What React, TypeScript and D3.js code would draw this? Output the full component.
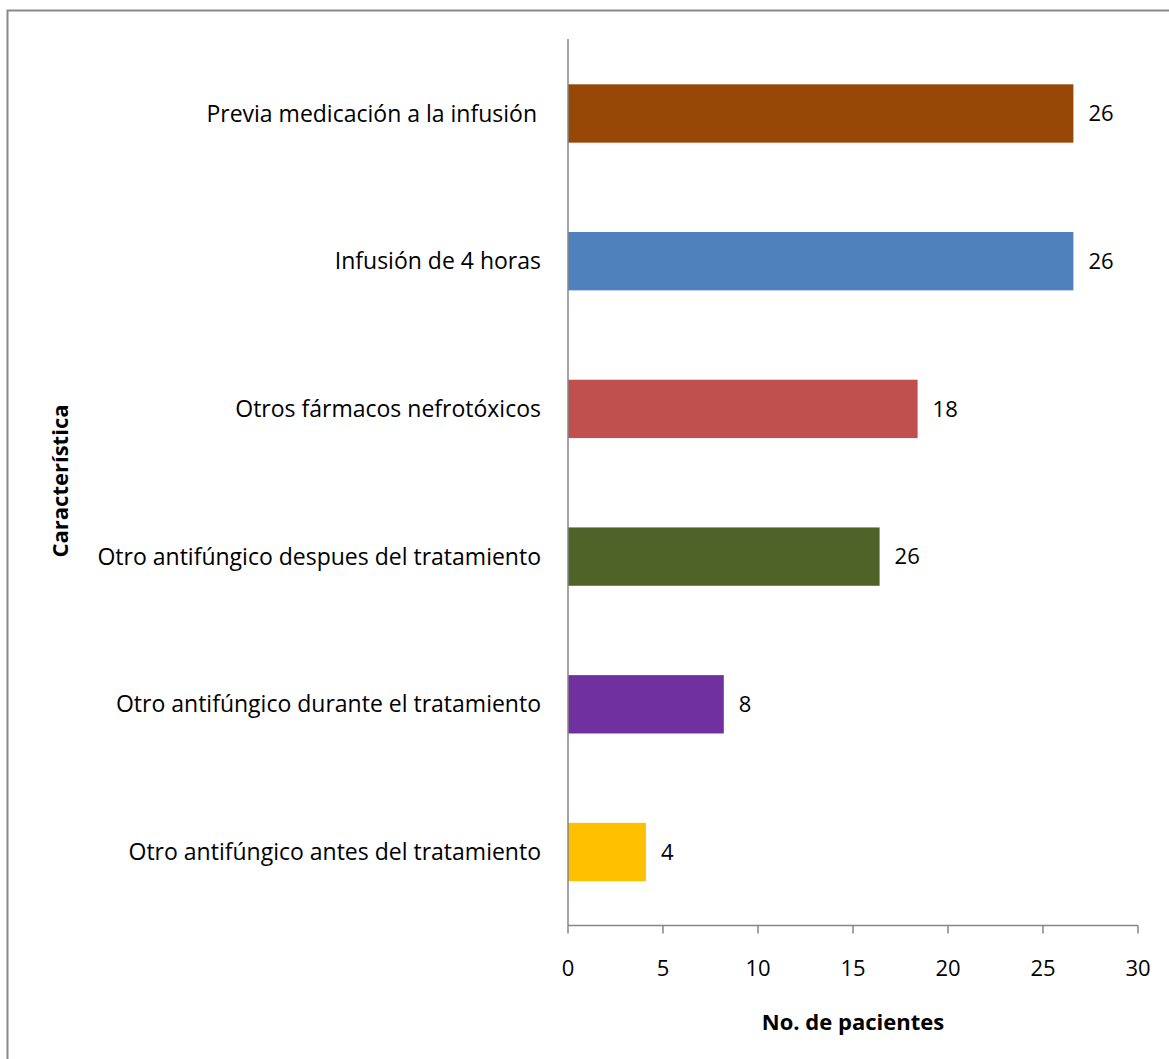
import React from "react";
import * as d3 from "d3";

const categories = [
  "Previa medicación a la infusión",
  "Infusión de 4 horas",
  "Otros fármacos nefrotóxicos",
  "Otro antifúngico despues del tratamiento",
  "Otro antifúngico durante el tratamiento",
  "Otro antifúngico antes del tratamiento",
];
const barValues = [26.6, 26.6, 18.4, 16.4, 8.2, 4.1];
const valueLabels = ["26", "26", "18", "26", "8", "4"];
const barColors = ["#974706", "#4F81BD", "#C0504D", "#4F6228", "#7030A0", "#FFC000"];
const xTicks = [0, 5, 10, 15, 20, 25, 30];
const xTitle = "No. de pacientes";
const yTitle = "Característica";

export default function App() {
  const W = 1169, H = 1059;
  const x0 = 568, x1 = 1138, yTop = 40, yBot = 925.5;
  const font = "'Open Sans', sans-serif";
  const x = d3.scaleLinear().domain([0, 30]).range([x0, x1]);
  const y = d3.scaleBand<string>().domain(categories).range([yTop, yBot]).paddingInner(0.605).paddingOuter(0.3);
  return (
    <svg width={W} height={H} style={{ position: "absolute", left: 0, top: 0, background: "#fff" }} fontFamily={font}>
      <rect x={7.5} y={10.5} width={W + 20} height={H + 20} fill="#fff" stroke="#898989" strokeWidth={2} />
      {categories.map((c, i) => (
        <g key={c}>
          <rect x={x(0)} y={y(c)!} width={x(barValues[i]) - x(0)} height={y.bandwidth()} fill={barColors[i]} />
          <text x={x(barValues[i]) + 15} y={y(c)! + y.bandwidth() / 2} dy="0.35em" fontSize={22} fill="#000">{valueLabels[i]}</text>
          <text x={i === 0 ? 537 : 541} y={y(c)! + y.bandwidth() / 2} dy="0.35em" fontSize={23} textAnchor="end" fill="#000">{c}</text>
        </g>
      ))}
      <line x1={x0} x2={x0} y1={yTop - 1} y2={yBot} stroke="#868686" strokeWidth={1.5} />
      <line x1={x0} x2={x1} y1={yBot} y2={yBot} stroke="#868686" strokeWidth={1.5} />
      {xTicks.map((t) => (
        <g key={t}>
          <line x1={x(t)} x2={x(t)} y1={yBot} y2={yBot + 8} stroke="#868686" strokeWidth={1.5} />
          <text x={x(t)} y={968} textAnchor="middle" dy="0.35em" fontSize={22} fill="#000">{t}</text>
        </g>
      ))}
      <text x={853} y={1022} textAnchor="middle" dy="0.35em" fontSize={22} fontWeight="bold" fill="#000">{xTitle}</text>
      <text transform="translate(60,481) rotate(-90)" textAnchor="middle" dy="0.35em" fontSize={22} fontWeight="bold" fill="#000">{yTitle}</text>
    </svg>
  );
}
